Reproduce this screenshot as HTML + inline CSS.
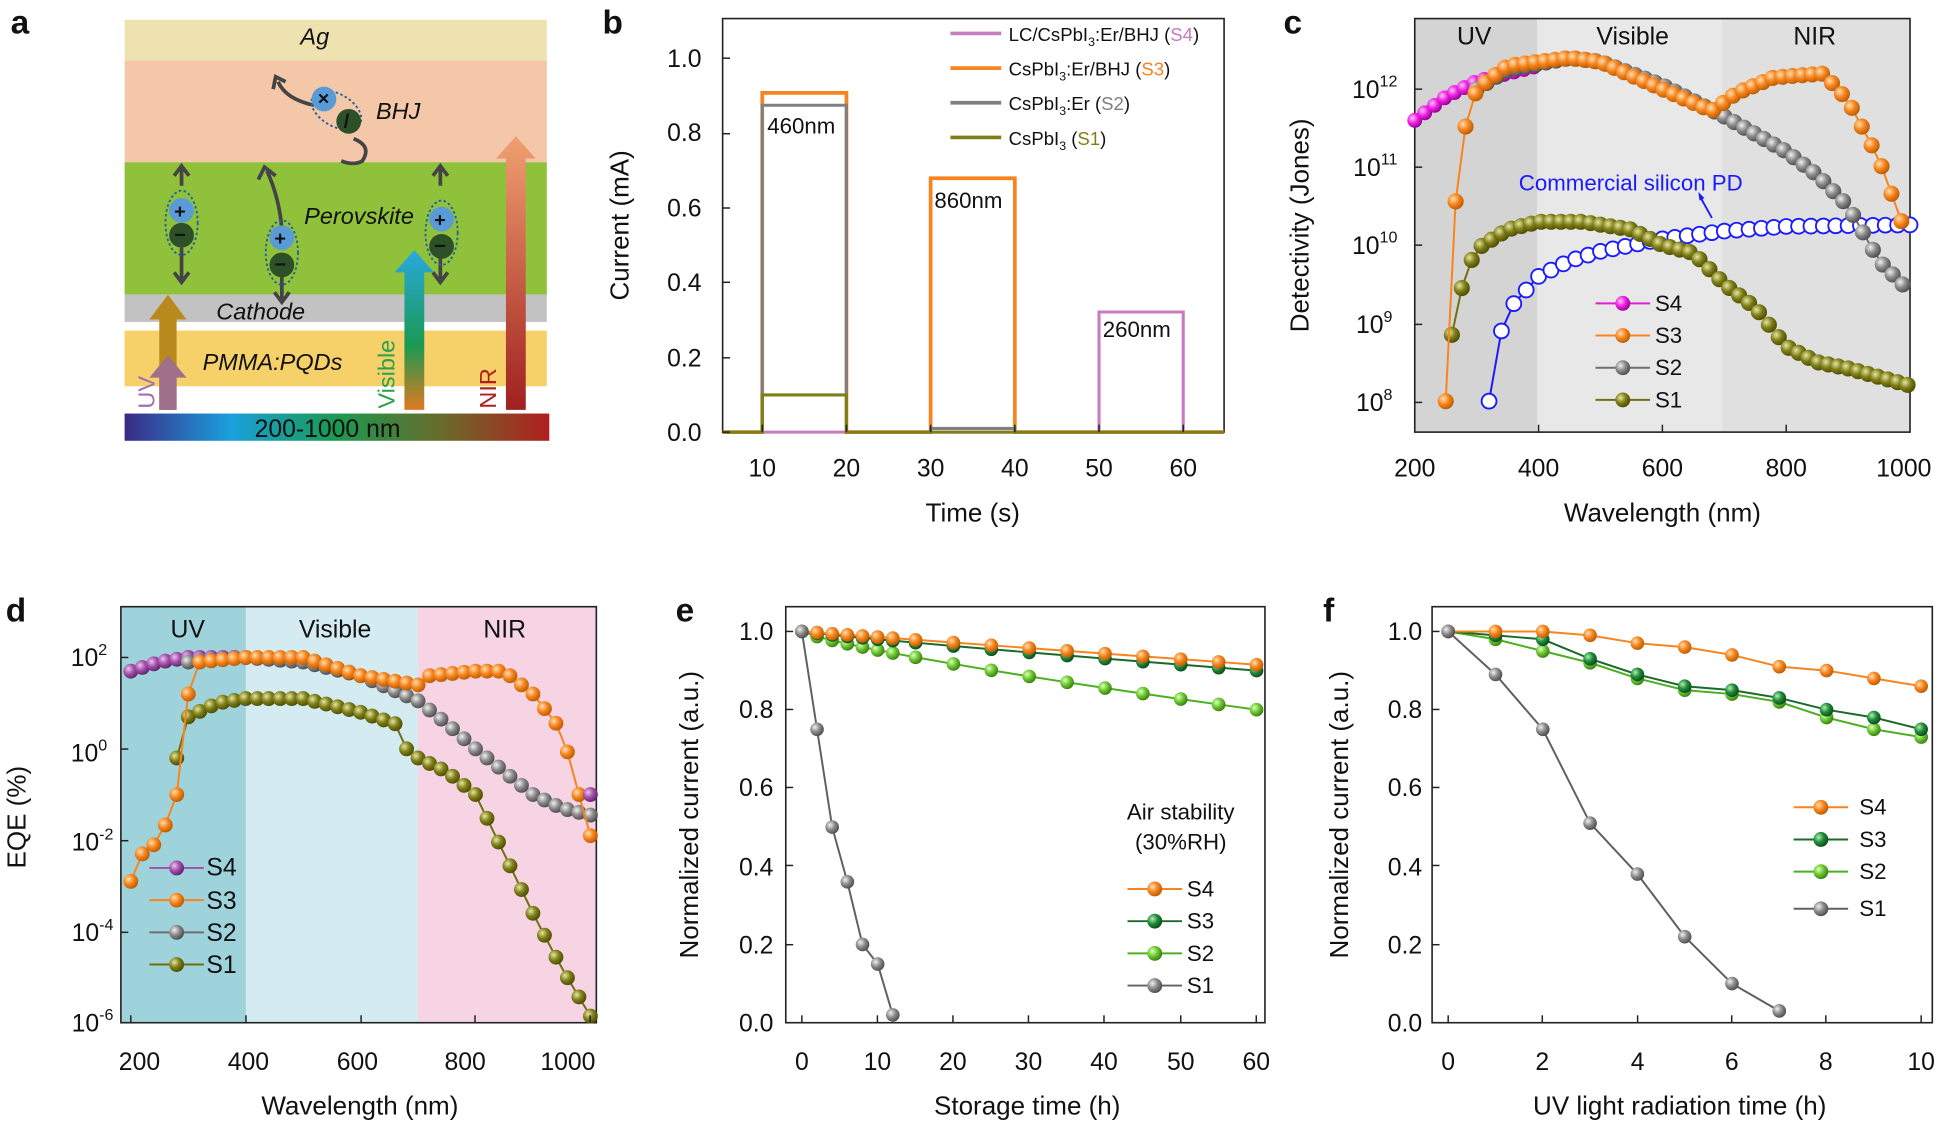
<!DOCTYPE html>
<html><head><meta charset="utf-8"><style>
html,body{margin:0;padding:0;background:#fff}
svg{display:block}
text{font-family:"Liberation Sans",Arial,sans-serif;fill:#111}
</style></head><body>
<svg id="s" width="1943" height="1123" viewBox="0 0 1568 907" xmlns="http://www.w3.org/2000/svg">
<defs>
<linearGradient id="spec" x1="0" x2="1"><stop offset="0" stop-color="#3a2a86"/><stop offset="0.25" stop-color="#1aa0dc"/><stop offset="0.5" stop-color="#1a9a50"/><stop offset="0.75" stop-color="#6a6a2a"/><stop offset="1" stop-color="#b0201e"/></linearGradient>
<linearGradient id="visar" x1="0" y1="1" x2="0" y2="0"><stop offset="0" stop-color="#e07a20"/><stop offset="0.4" stop-color="#1a9a50"/><stop offset="1" stop-color="#2aa8e0"/></linearGradient>
<linearGradient id="nirar" x1="0" y1="1" x2="0" y2="0"><stop offset="0" stop-color="#a02020"/><stop offset="1" stop-color="#f0a070"/></linearGradient>
<radialGradient id="gO" cx="0.35" cy="0.35" r="0.7"><stop offset="0" stop-color="#ffe0b0"/><stop offset="0.5" stop-color="#f7841e"/><stop offset="1" stop-color="#b85a00"/></radialGradient>
<radialGradient id="gG" cx="0.35" cy="0.35" r="0.7"><stop offset="0" stop-color="#f0f0f0"/><stop offset="0.5" stop-color="#8a8a8a"/><stop offset="1" stop-color="#4a4a4a"/></radialGradient>
<radialGradient id="gL" cx="0.35" cy="0.35" r="0.7"><stop offset="0" stop-color="#e6e6a0"/><stop offset="0.5" stop-color="#7f7f1a"/><stop offset="1" stop-color="#4a4a00"/></radialGradient>
<radialGradient id="gM" cx="0.35" cy="0.35" r="0.7"><stop offset="0" stop-color="#ffc0ff"/><stop offset="0.5" stop-color="#f020e0"/><stop offset="1" stop-color="#900090"/></radialGradient>
<radialGradient id="gP" cx="0.35" cy="0.35" r="0.7"><stop offset="0" stop-color="#f0c0f0"/><stop offset="0.5" stop-color="#a050a8"/><stop offset="1" stop-color="#602068"/></radialGradient>
<radialGradient id="gD" cx="0.35" cy="0.35" r="0.7"><stop offset="0" stop-color="#b0f0b0"/><stop offset="0.5" stop-color="#1f8a3a"/><stop offset="1" stop-color="#0a4a1a"/></radialGradient>
<radialGradient id="gN" cx="0.35" cy="0.35" r="0.7"><stop offset="0" stop-color="#e0ffc0"/><stop offset="0.5" stop-color="#6ac830"/><stop offset="1" stop-color="#3a7a10"/></radialGradient>
</defs>

<!-- panel letters -->
<g font-weight="bold" font-size="27">
<text x="8" y="27">a</text><text x="486" y="27">b</text><text x="1036" y="27">c</text>
<text x="4" y="502">d</text><text x="545" y="502">e</text><text x="1068" y="502">f</text></g>

<!-- panel a -->
<rect x="100" y="16" width="341" height="33" fill="#eee2b0"/>
<rect x="100" y="49" width="341" height="82" fill="#f3c7a8"/>
<rect x="100" y="131" width="341" height="107" fill="#8fc23a"/>
<rect x="100" y="238" width="341" height="22" fill="#c2c2c2"/>
<rect x="100" y="267" width="341" height="45" fill="#f6d169"/>
<rect x="100" y="334" width="343" height="22" fill="url(#spec)"/>
<g font-style="italic" font-size="19"><text x="242" y="36">Ag</text><text x="303" y="96">BHJ</text><text x="245" y="181">Perovskite</text><text x="174" y="258">Cathode</text><text x="163" y="299">PMMA:PQDs</text></g>
<text x="205" y="353" font-size="20">200-1000 nm</text>
<path d="M128 331 V 258 H120 L135 238 L150 258 H142 V331Z" fill="#b88a1e"/>
<path d="M128 331 V 305 H120 L135 287 L150 305 H142 V331Z" fill="#a0708a"/>
<path d="M326 331 V 220 H318 L334 202 L350 220 H342 V331Z" fill="url(#visar)"/>
<path d="M408 331 V 128 H400 L416 110 L432 128 H424 V331Z" fill="url(#nirar)"/>
<text transform="translate(124,330) rotate(-90)" font-size="19" style="fill:#a070b0">UV</text>
<text transform="translate(318,330) rotate(-90)" font-size="19" style="fill:#2aa050">Visible</text>
<text transform="translate(400,330) rotate(-90)" font-size="19" style="fill:#b02020">NIR</text>
<g stroke="#444" stroke-width="3" fill="none">
<path d="M146 150 V136 M140 142 L146 134 L152 142 M146 200 V228 M140 220 L146 228 L152 220"/>
<path d="M227 185 Q225 160 215 138 M208 145 L213 135 L222 142 M227 215 V243 M221 236 L227 244 L233 236"/>
<path d="M355 150 V136 M349 142 L355 134 L361 142 M355 205 V228 M349 220 L355 228 L361 220"/>
<path d="M253 85 Q230 80 224 66 M220 72 L222 62 L230 66 M285 112 Q300 118 292 130 Q285 134 275 130"/>
</g>
<g stroke="#2060a0" stroke-dasharray="2,2" stroke-width="1.5" fill="none">
<ellipse cx="146" cy="180" rx="13" ry="26"/><ellipse cx="227" cy="204" rx="13" ry="26"/><ellipse cx="356" cy="188" rx="13" ry="26"/><ellipse cx="271" cy="89" rx="22" ry="13" transform="rotate(30 271 89)"/></g>
<g><circle cx="146" cy="170" r="10" fill="#5a9ad6"/><circle cx="146" cy="190" r="10" fill="#2d5028"/>
<circle cx="227" cy="192" r="10" fill="#5a9ad6"/><circle cx="227" cy="214" r="10" fill="#2d5028"/>
<circle cx="356" cy="177" r="10" fill="#5a9ad6"/><circle cx="356" cy="199" r="10" fill="#2d5028"/>
<circle cx="261" cy="80" r="10" fill="#5a9ad6"/><circle cx="281" cy="98" r="10" fill="#2d5028"/></g>
<g fill="#fff" font-size="16" font-weight="bold"><text x="140" y="176">+</text><text x="140" y="195">−</text><text x="221" y="198">+</text><text x="221" y="219">−</text><text x="350" y="183">+</text><text x="350" y="204">−</text><text x="256" y="85">×</text><text x="277" y="103">/</text></g>

<!-- panel b -->
<g id="b">
<rect x="583" y="15" width="405" height="334" fill="none" stroke="#222" stroke-width="1.3"/>
<polyline fill="none" stroke="#c77cc0" stroke-width="2.5" points="583,349 887,349 887,252 955,252 955,349 988,349"/>
<polyline fill="none" stroke="#f7841e" stroke-width="3" points="583,349 615,349 615,75 683,75 683,349 751,349 751,144 819,144 819,349 988,349"/>
<polyline fill="none" stroke="#808080" stroke-width="2.5" points="583,349 615,349 615,85 683,85 683,349 751,349 751,346 819,346 819,349 988,349"/>
<polyline fill="none" stroke="#7f7f1a" stroke-width="2.5" points="583,349 615,349 615,319 683,319 683,349 988,349"/>
<g font-size="18"><text x="619" y="108">460nm</text><text x="754" y="168">860nm</text><text x="890" y="272">260nm</text></g>
<g font-size="15">
<line x1="767" y1="27" x2="808" y2="27" stroke="#c77cc0" stroke-width="3"/><text x="814" y="33">LC/CsPbI<tspan font-size="10" dy="4">3</tspan><tspan dy="-4">:Er/BHJ (</tspan><tspan style="fill:#c77cc0">S4</tspan>)</text>
<line x1="767" y1="55" x2="808" y2="55" stroke="#f7841e" stroke-width="3"/><text x="814" y="61">CsPbI<tspan font-size="10" dy="4">3</tspan><tspan dy="-4">:Er/BHJ (</tspan><tspan style="fill:#f7841e">S3</tspan>)</text>
<line x1="767" y1="83" x2="808" y2="83" stroke="#808080" stroke-width="3"/><text x="814" y="89">CsPbI<tspan font-size="10" dy="4">3</tspan><tspan dy="-4">:Er (</tspan><tspan style="fill:#808080">S2</tspan>)</text>
<line x1="767" y1="111" x2="808" y2="111" stroke="#7f7f1a" stroke-width="3"/><text x="814" y="117">CsPbI<tspan font-size="10" dy="4">3</tspan><tspan dy="-4"> (</tspan><tspan style="fill:#7f7f1a">S1</tspan>)</text></g>
<g font-size="20" text-anchor="end"><text x="566" y="356">0.0</text><text x="566" y="296">0.2</text><text x="566" y="235">0.4</text><text x="566" y="175">0.6</text><text x="566" y="114">0.8</text><text x="566" y="54">1.0</text></g>
<g font-size="20" text-anchor="middle"><text x="615" y="385">10</text><text x="683" y="385">20</text><text x="751" y="385">30</text><text x="819" y="385">40</text><text x="887" y="385">50</text><text x="955" y="385">60</text>
<text x="785" y="421" font-size="21">Time (s)</text></g>
<text transform="translate(507,182) rotate(-90)" font-size="21" text-anchor="middle">Current (mA)</text>
</g>

<!-- panel c -->
<rect x="1142" y="15" width="99" height="334" fill="#d4d4d4"/>
<rect x="1241" y="15" width="149" height="334" fill="#e8e8e8"/>
<rect x="1390" y="15" width="152" height="334" fill="#e0e0e0"/>
<rect x="1142" y="15" width="400" height="334" fill="none" stroke="#222" stroke-width="1.3"/>
<g font-size="20" text-anchor="middle"><text x="1190" y="36">UV</text><text x="1318" y="36">Visible</text><text x="1465" y="36">NIR</text>
<text x="1142" y="385">200</text><text x="1242" y="385">400</text><text x="1342" y="385">600</text><text x="1442" y="385">800</text><text x="1537" y="385">1000</text>
<text x="1342" y="421" font-size="21">Wavelength (nm)</text></g>
<g font-size="20" text-anchor="end"><text x="1128" y="79">10<tspan font-size="13" dy="-9">12</tspan></text><text x="1128" y="142">10<tspan font-size="13" dy="-9">11</tspan></text><text x="1128" y="205">10<tspan font-size="13" dy="-9">10</tspan></text><text x="1124" y="269">10<tspan font-size="13" dy="-9">9</tspan></text><text x="1124" y="332">10<tspan font-size="13" dy="-9">8</tspan></text></g>
<text transform="translate(1056,182) rotate(-90)" font-size="21" text-anchor="middle">Detectivity (Jones)</text>
<text x="1226" y="154" font-size="18" style="fill:#1a1aff">Commercial silicon PD</text>
<path d="M1372 158 L1382 176" stroke="#1a1aff" stroke-width="1.5"/><path d="M1376 160 L1371 155 L1372 162Z" fill="#1a1aff"/>
<g id="cplot"></g>
<g font-size="18"><text x="1336" y="251">S4</text><text x="1336" y="277">S3</text><text x="1336" y="303">S2</text><text x="1336" y="329">S1</text></g>

<!-- panel d -->
<rect x="97" y="490" width="101" height="336" fill="#9fd3dc"/>
<rect x="198" y="490" width="139" height="336" fill="#d4ebf1"/>
<rect x="337" y="490" width="144" height="336" fill="#f6d4e4"/>
<rect x="97" y="490" width="384" height="336" fill="none" stroke="#222" stroke-width="1.3"/>
<g font-size="20" text-anchor="middle"><text x="151" y="515">UV</text><text x="270" y="515">Visible</text><text x="407" y="515">NIR</text>
<text x="112" y="864">200</text><text x="200" y="864">400</text><text x="288" y="864">600</text><text x="375" y="864">800</text><text x="458" y="864">1000</text>
<text x="290" y="900" font-size="21">Wavelength (nm)</text></g>
<g font-size="20" text-anchor="end"><text x="86" y="538">10<tspan font-size="13" dy="-9">2</tspan></text><text x="86" y="615">10<tspan font-size="13" dy="-9">0</tspan></text><text x="91" y="687">10<tspan font-size="13" dy="-9">-2</tspan></text><text x="91" y="760">10<tspan font-size="13" dy="-9">-4</tspan></text><text x="91" y="833">10<tspan font-size="13" dy="-9">-6</tspan></text></g>
<text transform="translate(20,660) rotate(-90)" font-size="21" text-anchor="middle">EQE (%)</text>
<g id="dplot"></g>
<g font-size="20"><text x="166" y="707">S4</text><text x="166" y="734">S3</text><text x="166" y="760">S2</text><text x="166" y="786">S1</text></g>

<!-- panel e -->
<rect x="634" y="490" width="387" height="336" fill="none" stroke="#222" stroke-width="1.3"/>
<g font-size="20" text-anchor="end"><text x="624" y="833">0.0</text><text x="624" y="770">0.2</text><text x="624" y="707">0.4</text><text x="624" y="643">0.6</text><text x="624" y="580">0.8</text><text x="624" y="517">1.0</text></g>
<g font-size="20" text-anchor="middle"><text x="647" y="864">0</text><text x="708" y="864">10</text><text x="769" y="864">20</text><text x="830" y="864">30</text><text x="891" y="864">40</text><text x="953" y="864">50</text><text x="1014" y="864">60</text>
<text x="829" y="900" font-size="21">Storage time (h)</text>
<text x="953" y="662" font-size="18">Air stability</text><text x="953" y="686" font-size="18">(30%RH)</text></g>
<text transform="translate(563,658) rotate(-90)" font-size="21" text-anchor="middle">Normalized current (a.u.)</text>
<g id="eplot"></g>
<g font-size="18"><text x="958" y="724">S4</text><text x="958" y="750">S3</text><text x="958" y="776">S2</text><text x="958" y="802">S1</text></g>

<!-- panel f -->
<rect x="1156" y="490" width="404" height="336" fill="none" stroke="#222" stroke-width="1.3"/>
<g font-size="20" text-anchor="end"><text x="1148" y="833">0.0</text><text x="1148" y="770">0.2</text><text x="1148" y="707">0.4</text><text x="1148" y="643">0.6</text><text x="1148" y="580">0.8</text><text x="1148" y="517">1.0</text></g>
<g font-size="20" text-anchor="middle"><text x="1169" y="864">0</text><text x="1245" y="864">2</text><text x="1322" y="864">4</text><text x="1398" y="864">6</text><text x="1474" y="864">8</text><text x="1551" y="864">10</text>
<text x="1356" y="900" font-size="21">UV light  radiation time (h)</text></g>
<text transform="translate(1088,658) rotate(-90)" font-size="21" text-anchor="middle">Normalized current (a.u.)</text>
<g id="fplot"></g>
<g font-size="18"><text x="1501" y="658">S4</text><text x="1501" y="684">S3</text><text x="1501" y="710">S2</text><text x="1501" y="740">S1</text></g>
</svg>
<script>
const NS="http://www.w3.org/2000/svg";
function el(p,t,a){const e=document.createElementNS(NS,t);for(const k in a)e.setAttribute(k,a[k]);p.appendChild(e);return e;}
function interp(pts,step){const out=[];for(let x=pts[0][0];x<=pts[pts.length-1][0]+1e-9;x+=step){let i=0;while(i<pts.length-2&&x>pts[i+1][0])i++;const a=pts[i],b=pts[i+1];const t=(x-a[0])/(b[0]-a[0]);out.push([x,a[1]+t*(b[1]-a[1])]);}return out;}
function series(g,pts,fx,fy,col,grad,r,hollow){const P=pts.map(p=>[fx(p[0]),fy(p[1])]);el(g,"polyline",{points:P.map(p=>p.join(",")).join(" "),fill:"none",stroke:col,"stroke-width":1.6});P.forEach(p=>{if(hollow)el(g,"circle",{cx:p[0],cy:p[1],r:r,fill:"#fff",stroke:col,"stroke-width":1.5});else el(g,"circle",{cx:p[0],cy:p[1],r:r,fill:"url(#"+grad+")"});});}
function leg(g,x,y,col,grad){el(g,"line",{x1:x-22,y1:y,x2:x+22,y2:y,stroke:col,"stroke-width":1.6});el(g,"circle",{cx:x,cy:y,r:6,fill:"url(#"+grad+")"});}
// c
const c=document.getElementById("cplot");
const cx=w=>1142+(w-200)*0.5, cy=v=>Math.min(349,72+(12-v)*63);
const clip=el(c,"g",{});
series(clip,interp([[200,11.6],[250,11.9],[300,12.1],[400,12.3]],16),cx,cy,"#e020d0","gM",6);
series(clip,interp([[320,8],[340,8.9],[360,9.25],[400,9.6],[450,9.8],[500,9.92],[600,10.08],[700,10.18],[800,10.24],[1000,10.26]],20),cx,cy,"#1a1aff","",6,true);
series(clip,interp([[260,8.85],[280,9.6],[300,9.95],[350,10.2],[400,10.3],[470,10.3],[550,10.2],[600,10.0],[650,9.9],[700,9.5],[750,9.2],[800,8.7],[850,8.5],[900,8.42],[1000,8.2]],16),cx,cy,"#6f6f10","gL",6.5);
series(clip,interp([[300,12.0],[350,12.25],[450,12.4],[500,12.35],[600,12.05],[700,11.65],[800,11.2],[850,10.9],[900,10.5],[950,9.8],[1000,9.4]],16),cx,cy,"#707070","gG",6.5);
series(clip,interp([[250,8],[270,11.2],[300,12.0],[350,12.3],[450,12.4],[500,12.35],[600,12.0],[680,11.72],[720,11.95],[780,12.15],[860,12.2],[900,11.85],[950,11.1],[1000,10.0]],16),cx,cy,"#f7841e","gO",6.5);
leg(c,1310,245,"#e020d0","gM");leg(c,1310,271,"#f7841e","gO");leg(c,1310,297,"#707070","gG");leg(c,1310,323,"#6f6f10","gL");
// d
const d=document.getElementById("dplot");
const dx=w=>105+(w-200)*0.464, dy=v=>531+(2-v)*36.9;
series(d,interp([[200,1.7],[250,1.9],[300,2.0],[400,2.0]],20),dx,dy,"#a050a8","gP",6);
series(d,interp([[280,-0.2],[300,0.7],[350,1.0],[400,1.1],[500,1.1],[600,0.8],[660,0.55],[680,0.0],[700,-0.2],[750,-0.5],[800,-1.0],[850,-2.3],[900,-3.6],[950,-4.8],[1000,-5.85]],20),dx,dy,"#6f6f10","gL",6);
series(d,interp([[300,1.9],[400,2.0],[500,1.9],[600,1.6],[700,1.05],[750,0.55],[800,0.0],[850,-0.5],[900,-1.0],[950,-1.3],[1000,-1.45]],20),dx,dy,"#707070","gG",6);
series(d,interp([[200,-2.9],[220,-2.3],[250,-2.0],[280,-1.0],[300,1.2],[320,1.9],[400,2.0],[500,2.0],[600,1.6],[700,1.4],[720,1.6],[800,1.7],[850,1.7],[900,1.2],[950,0.4],[980,-1.0],[1000,-1.9]],20),dx,dy,"#f7841e","gO",6);
el(d,"circle",{cx:dx(1000),cy:dy(-1.0),r:6,fill:"url(#gP)"});
leg(d,142,701,"#a050a8","gP");leg(d,142,727,"#f7841e","gO");leg(d,142,753,"#707070","gG");leg(d,142,779,"#6f6f10","gL");
// e
const e=document.getElementById("eplot");
const ex=h=>647+h*6.12, ey=v=>826-v*316;
const tE=[0,2,4,6,8,10,12,15,20,25,30,35,40,45,50,55,60];
series(e,tE.map(t=>[t,1-0.2*Math.pow(t/60,0.8)]),ex,ey,"#4ab020","gN",5.5);
series(e,tE.map(t=>[t,1-0.1*Math.pow(t/60,0.9)]),ex,ey,"#1a6a2a","gD",5.5);
series(e,tE.map(t=>[t,1-0.085*Math.pow(t/60,1)]),ex,ey,"#f7841e","gO",5.5);
series(e,[[0,1],[2,0.75],[4,0.5],[6,0.36],[8,0.2],[10,0.15],[12,0.02]],ex,ey,"#606060","gG",5.5);
leg(e,932,718,"#f7841e","gO");leg(e,932,744,"#1a6a2a","gD");leg(e,932,770,"#4ab020","gN");leg(e,932,796,"#606060","gG");
// f
const f=document.getElementById("fplot");
const fx=h=>1169+h*38.2;
const F=a=>a.map((v,i)=>[i,v]);
series(f,F([1,.98,.95,.92,.88,.85,.84,.82,.78,.75,.73]),fx,ey,"#4ab020","gN",5.5);
series(f,F([1,.99,.98,.93,.89,.86,.85,.83,.80,.78,.75]),fx,ey,"#1a6a2a","gD",5.5);
series(f,F([1,1,1,.99,.97,.96,.94,.91,.9,.88,.86]),fx,ey,"#f7841e","gO",5.5);
series(f,F([1,.89,.75,.51,.38,.22,.1,.03]),fx,ey,"#606060","gG",5.5);
leg(f,1470,652,"#f7841e","gO");leg(f,1470,678,"#1a6a2a","gD");leg(f,1470,704,"#4ab020","gN");leg(f,1470,734,"#606060","gG");
// ticks
const s=document.getElementById("s");
function ticks(x0,y0,x1,y1,xs,ys){xs.forEach(x=>{el(s,"line",{x1:x,y1:y1,x2:x,y2:y1-6,stroke:"#222","stroke-width":1.2});});ys.forEach(y=>{el(s,"line",{x1:x0,y1:y,x2:x0+6,y2:y,stroke:"#222","stroke-width":1.2});});}
ticks(583,15,988,349,[615,683,751,819,887,955],[349,289,228,168,108,47]);
ticks(1142,15,1542,349,[1242,1342,1442],[72,135,198,262,325]);
ticks(97,490,481,826,[105,198,291,383,476],[531,605,679,753,826]);
ticks(634,490,1021,826,[647,708,769,830,891,953,1014],[826,763,699,636,573,510]);
ticks(1156,490,1560,826,[1169,1245,1322,1398,1474,1551],[826,763,699,636,573,510]);
</script>
</body></html>
